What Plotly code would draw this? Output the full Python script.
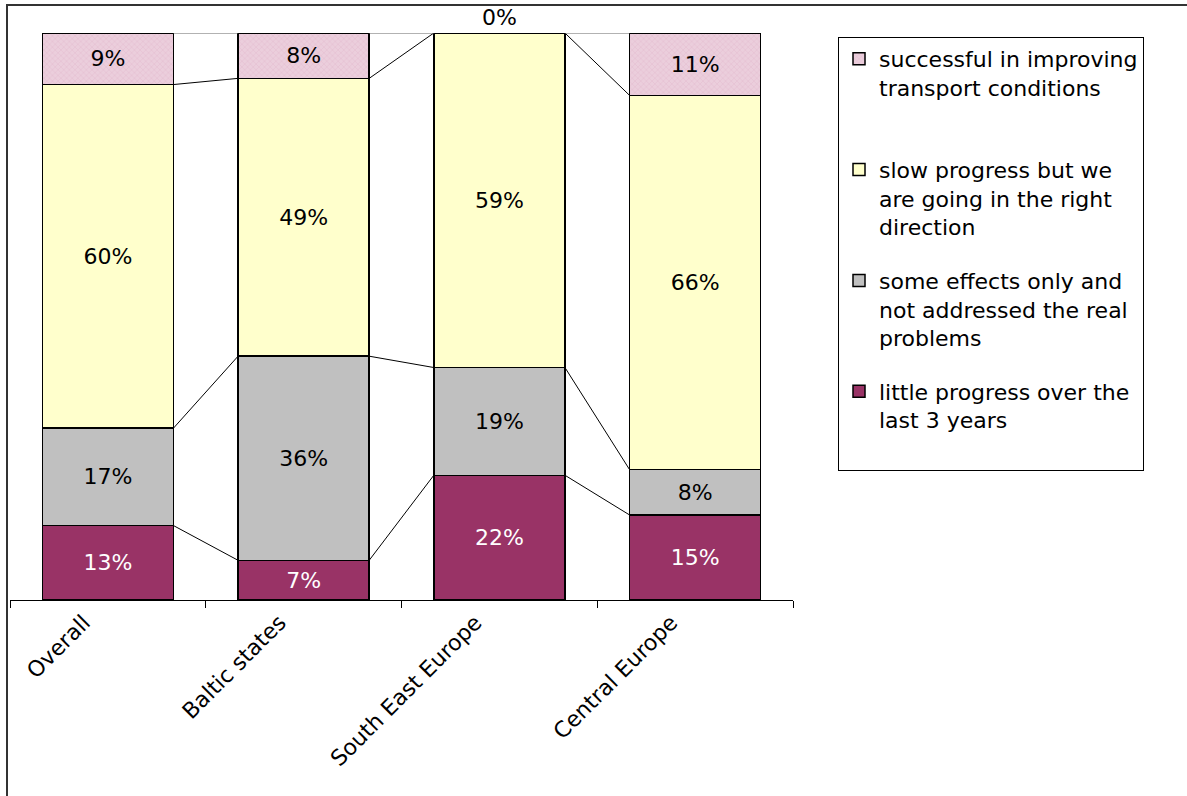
import plotly.graph_objects as go

# ---------------- data ----------------
categories = ["Overall", "Baltic states", "South East Europe", "Central Europe"]
little_progress = [13, 7, 22, 15]
some_effects = [17, 36, 19, 8]
slow_progress = [60, 49, 59, 66]
successful = [9, 8, 0, 11]

legend_labels = [
    "little progress over the<br>last 3 years<br> ",
    "some effects only and<br>not addressed the real<br>problems",
    "slow progress but we<br>are going in the right<br>direction",
    "successful in improving<br>transport conditions<br> ",
]

# ---------------- styles ----------------
W, H = 1187, 796
FONT = "DejaVu Sans"
FS = 22
BAR_WIDTH = 0.67
colors = ["#993366", "#C0C0C0", "#FFFFCC", "#EBCEDC"]
text_colors = ["white", "black", "black", "black"]

series = [little_progress, some_effects, slow_progress, successful]
totals = [sum(s[i] for s in series) for i in range(len(categories))]

fig = go.Figure()

for k, (vals, name) in enumerate(zip(series, legend_labels)):
    shares = [v / totals[i] * 100 for i, v in enumerate(vals)]
    marker = dict(color=colors[k], line=dict(color="black", width=1.5))
    if k == 3:
        marker["pattern"] = dict(shape="x", fgcolor="#D9A9C1", bgcolor=colors[k],
                                 size=4, solidity=0.25)
    textpos = ["inside" if v > 0 else "outside" for v in vals] if k == 3 else "inside"
    fig.add_trace(go.Bar(
        x=categories, y=shares, name=name, width=BAR_WIDTH,
        marker=marker,
        text=[f"{v}%" for v in vals],
        textposition=textpos,
        insidetextanchor="middle",
        textfont=dict(family=FONT, size=FS, color=text_colors[k]),
        outsidetextfont=dict(family=FONT, size=FS, color="black"),
        cliponaxis=False,
        legendgroup=f"g{k}",
        legendrank=len(series) - k,
        hoverinfo="skip",
    ))

# series lines connecting the stacked segments
cum = [0.0] * len(categories)
for k, vals in enumerate(series):
    cum = [cum[i] + vals[i] / totals[i] * 100 for i in range(len(categories))]
    xs, ys = [], []
    for i in range(len(categories) - 1):
        xs += [i + BAR_WIDTH / 2, i + 1 - BAR_WIDTH / 2, None]
        ys += [cum[i], cum[i + 1], None]
    fig.add_trace(go.Scatter(
        x=xs, y=ys, xaxis="x2", yaxis="y", mode="lines",
        line=dict(color="black" if k < len(series) - 1 else "#666666", width=1),
        showlegend=False, hoverinfo="skip",
    ))

fig.update_layout(
    width=W, height=H,
    margin=dict(l=0, r=0, t=0, b=0),
    paper_bgcolor="white", plot_bgcolor="white",
    barmode="stack",
    font=dict(family=FONT, size=FS, color="black"),
    xaxis=dict(
        domain=[10 / W, 793 / W],
        type="category",
        tickson="boundaries",
        ticks="outside", ticklen=7, tickcolor="black", tickwidth=1,
        showline=True, linecolor="black", linewidth=1,
        tickangle=-45,
        ticklabelshift=-24,
        tickfont=dict(family=FONT, size=FS, color="black"),
        showgrid=False,
    ),
    xaxis2=dict(
        overlaying="x", range=[-0.5, len(categories) - 0.5],
        visible=False, showgrid=False,
    ),
    yaxis=dict(
        domain=[(H - 600) / H, (H - 33) / H],
        range=[0, 100.0001], visible=False, showgrid=False,
    ),
    legend=dict(
        x=838 / W, y=(H - 37) / H, xanchor="left", yanchor="top",
        bordercolor="black", borderwidth=1, bgcolor="white",
        font=dict(family=FONT, size=FS, color="black"),
        traceorder="grouped", tracegroupgap=22,
        valign="top",
    ),
    showlegend=True,
    shapes=[dict(
        type="rect", xref="paper", yref="paper",
        x0=7 / W, x1=1.02, y0=-0.02, y1=(H - 5) / H,
        line=dict(color="#333333", width=2), layer="below",
    )],
)

fig.write_html("out.html", config={"displayModeBar": False},
               post_script="document.body.style.margin='0';")
